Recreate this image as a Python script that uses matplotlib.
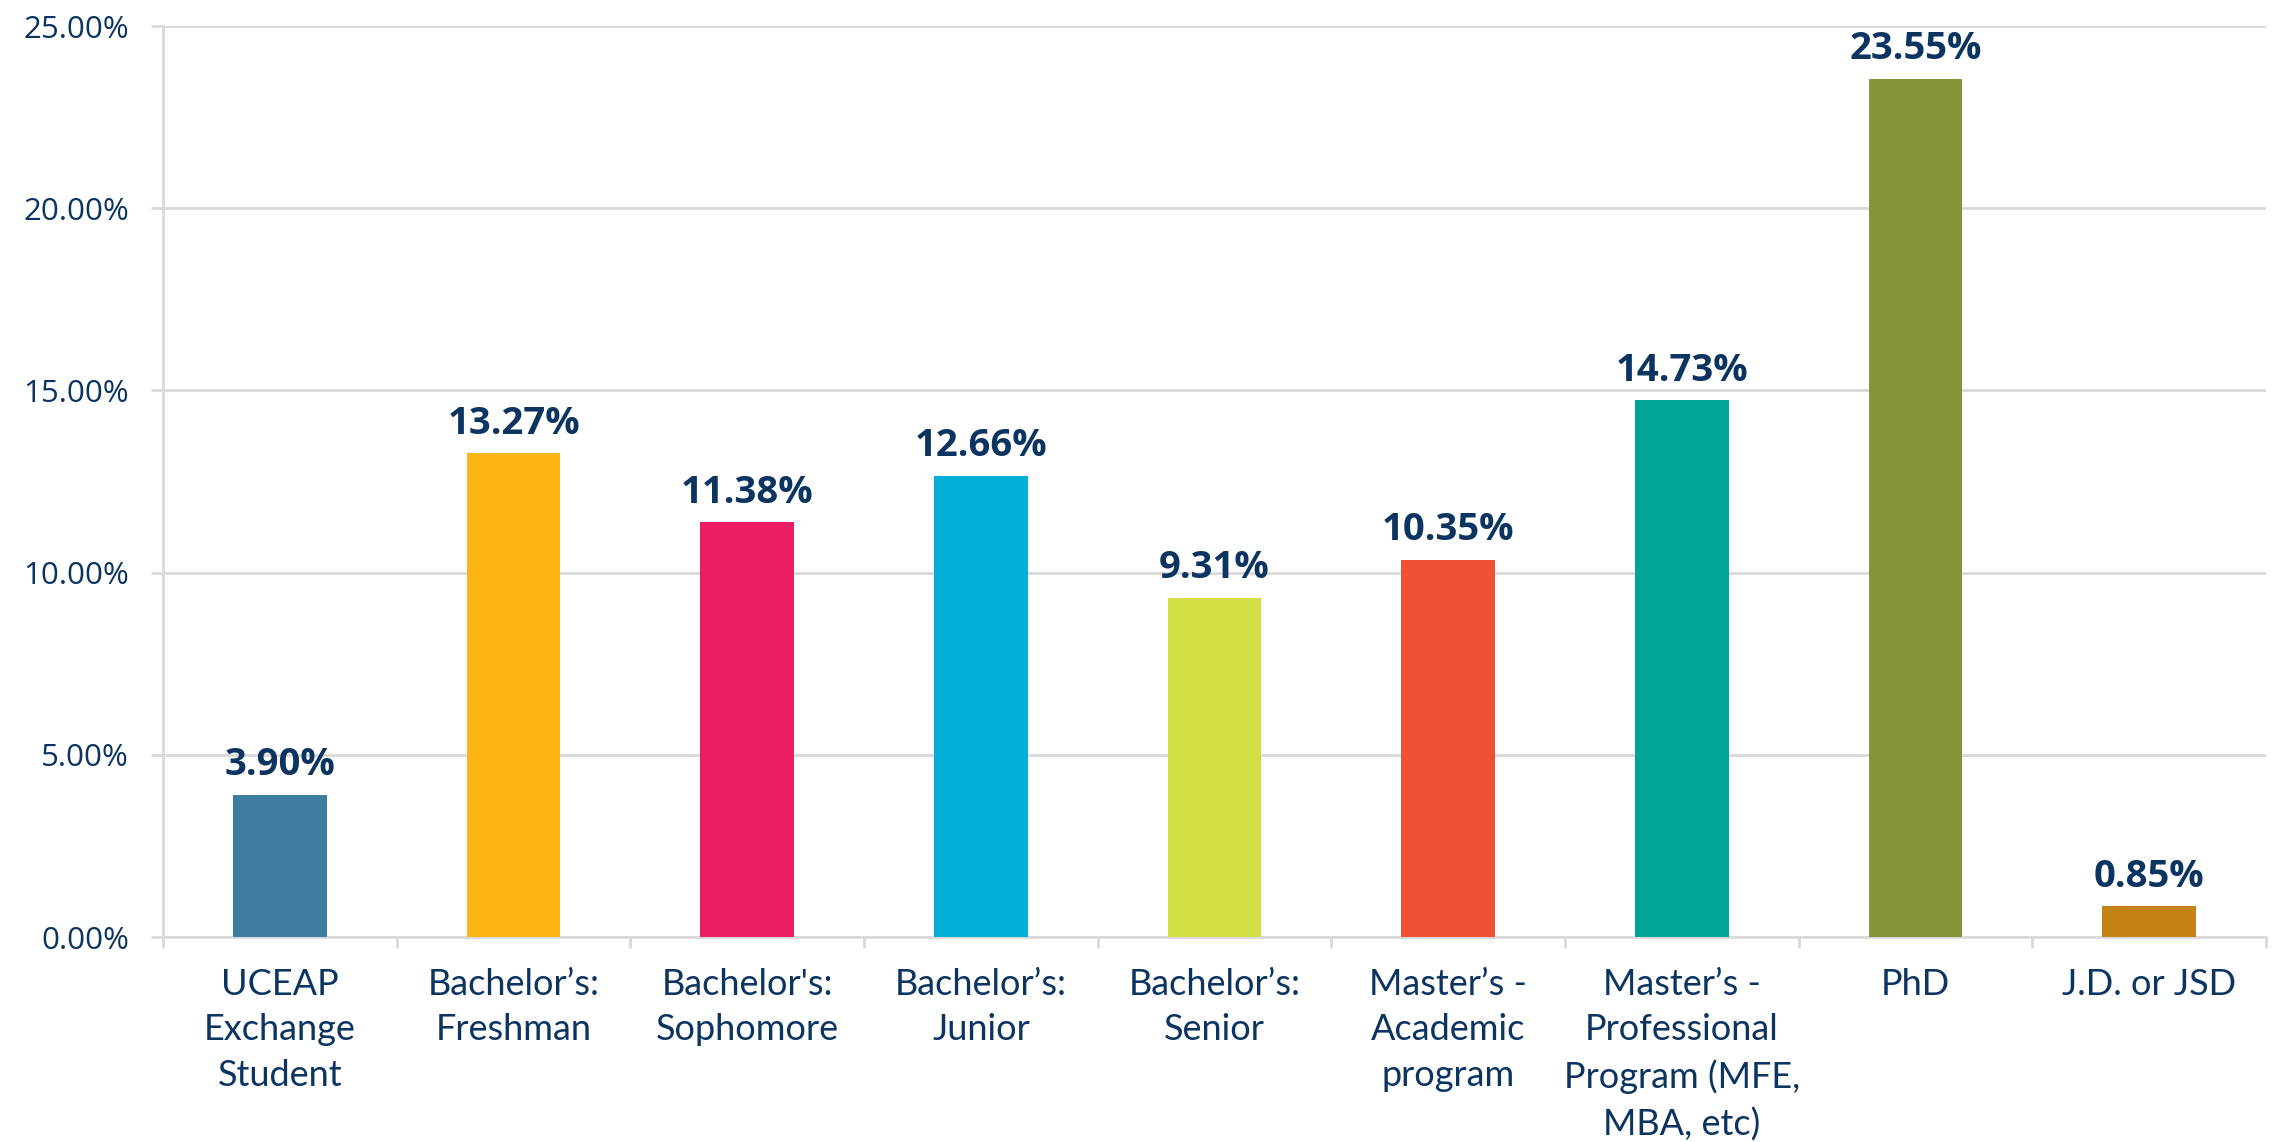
import matplotlib
matplotlib.use("Agg")
import matplotlib.pyplot as plt
from matplotlib import font_manager
from matplotlib.ticker import FuncFormatter, FixedLocator

categories = [
    "UCEAP\nExchange\nStudent",
    "Bachelor\u2019s:\nFreshman",
    "Bachelor's:\nSophomore",
    "Bachelor\u2019s:\nJunior",
    "Bachelor\u2019s:\nSenior",
    "Master\u2019s -\nAcademic\nprogram",
    "Master\u2019s -\nProfessional\nProgram (MFE,\nMBA, etc)",
    "PhD",
    "J.D. or JSD",
]
values = [3.90, 13.27, 11.38, 12.66, 9.31, 10.35, 14.73, 23.55, 0.85]
colors = ["#3D7EA0", "#FDB515", "#EC1E62", "#00B0D8", "#D0DE43",
          "#EE5034", "#00A597", "#859439", "#C48314"]
yticks = [0, 5, 10, 15, 20, 25]

navy = "#0B3461"
grid = "#D9D9D9"

names = {f.name for f in font_manager.fontManager.ttflist}
xfont = "Liberation Sans Narrow" if "Liberation Sans Narrow" in names else "Lato"

fig = plt.figure(figsize=(22.74, 11.42), dpi=100)
ax = fig.add_axes([0.0717, 0.1795, 0.9248, 0.7977])

x = list(range(len(values)))
bars = ax.bar(x, values, width=0.40, color=colors, zorder=3)

ax.set_xlim(-0.5, len(values) - 0.5)
ax.set_ylim(0, 25)
ax.yaxis.set_major_locator(FixedLocator(yticks))
ax.yaxis.set_major_formatter(FuncFormatter(lambda v, p: f"{v:.2f}%"))
ax.grid(axis="y", color=grid, linewidth=2, zorder=0)

for s in ["top", "right"]:
    ax.spines[s].set_visible(False)
for s in ["left", "bottom"]:
    ax.spines[s].set_color(grid)
    ax.spines[s].set_linewidth(2)

ax.tick_params(axis="y", length=8.6, width=2, color=grid, pad=16,
               labelsize=22.5, labelcolor=navy)
for lbl in ax.get_yticklabels():
    lbl.set_fontfamily("Open Sans")

# category boundary ticks
ax.xaxis.set_major_locator(FixedLocator([i + 0.5 for i in range(-1, len(values))]))
ax.xaxis.set_major_formatter(FuncFormatter(lambda v, p: ""))
ax.tick_params(axis="x", which="major", length=8, width=2, color=grid)
ax.xaxis.set_minor_locator(FixedLocator(x))
ax.set_xticks(x, categories, minor=True)
ax.tick_params(axis="x", which="minor", length=0, pad=22, labelsize=26,
               labelcolor=navy)
for lbl in ax.get_xticklabels(minor=True):
    lbl.set_fontfamily(xfont)
    lbl.set_linespacing(1.47)
    lbl.set_verticalalignment("top")

for b, v in zip(bars, values):
    ax.annotate(f"{v:.2f}%", (b.get_x() + b.get_width() / 2, v),
                xytext=(0, 14), textcoords="offset points",
                ha="center", va="baseline", fontsize=27.5, fontweight="bold",
                color=navy, fontfamily="Open Sans")

fig.savefig("out.png", dpi=100)
